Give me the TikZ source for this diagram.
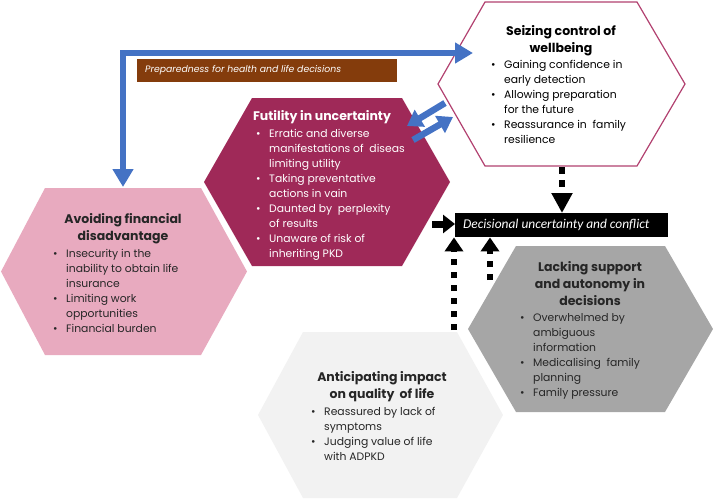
\documentclass[tikz,border=0pt]{standalone}
\usepackage{fontspec}
\setmainfont{Poppins}
\newfontfamily\calib{Carlito}
\usetikzlibrary{arrows.meta}
\definecolor{futc}{HTML}{9F2958}
\definecolor{avoc}{HTML}{E8AABF}
\definecolor{seizec}{HTML}{B24170}
\definecolor{lackc}{HTML}{A6A6A6}
\definecolor{antc}{HTML}{F2F2F2}
\definecolor{bluec}{HTML}{4472C4}
\definecolor{brownc}{HTML}{843C0C}
\definecolor{txtc}{HTML}{262626}
\newcommand\bul{\makebox[13pt][l]{•}}
\newcommand\blist[1]{\begin{tabular}[t]{@{}l@{}l@{}}#1\end{tabular}}
\newcommand\tlist[1]{\begin{tabular}[t]{@{}c@{}}#1\end{tabular}}
\tikzset{
  titletxt/.style={anchor=base, inner sep=0pt, font=\fontsize{12.5}{17}\selectfont\bfseries},
  bodytxt/.style={anchor=base west, inner sep=0pt, font=\fontsize{10.8}{15}\selectfont},
  bluedouble/.style={draw=bluec, line width=6.5pt, {Triangle[length=18pt,width=20pt]}-{Triangle[length=18pt,width=20pt]}},
  bluesingle/.style={draw=bluec, line width=6.5pt, -{Triangle[length=15pt,width=19pt]}},
  dotarrow/.style={draw=black, line width=6.5pt, dash pattern=on 6.5pt off 6.5pt}
}
\begin{document}
\begin{tikzpicture}[x=1pt,y=-1pt]
\useasboundingbox (0,0) rectangle (713,499);
\clip (0,0) rectangle (713,499);
% hexagons
\path[fill=avoc] (1,271.5) -- (45,188) -- (201,188) -- (247,271.5) -- (201,355) -- (45,355) -- cycle;
\coordinate (avoid) at (123,271.5);
\path[fill=futc] (204,182) -- (252,98) -- (402,98) -- (450,182) -- (402,266) -- (252,266) -- cycle;
\coordinate (futil) at (327,182);
\path[fill=white, draw=seizec, line width=1.2pt] (438,84) -- (485,2) -- (637,2) -- (685,84) -- (637,166) -- (485,166) -- cycle;
\coordinate (seize) at (561,84);
\path[fill=lackc] (468,329) -- (516,246) -- (665,246) -- (713,329) -- (665,412) -- (516,412) -- cycle;
\coordinate (lack) at (590,329);
\path[fill=antc] (258,415) -- (303,332) -- (457,332) -- (503,415) -- (457,498) -- (303,498) -- cycle;
\coordinate (antic) at (380,415);

% texts
\node[titletxt, text=black] (seizeT) at (561,35) {\tlist{Seizing control of\\wellbeing}};
\node[bodytxt, text=black] (seizeB) at (491,68) {\blist{\bul & Gaining confidence in\\ & early detection\\ \bul & Allowing preparation\\ & for the future\\ \bul & Reassurance in~ family\\ & resilience}};

\node[titletxt, text=white] (futilT) at (322,120) {Futility in uncertainty};
\node[bodytxt, text=white] (futilB) at (256,137) {\blist{\bul & Erratic and diverse\\ & manifestations of~ diseas\\ & limiting utility\\ \bul & Taking preventative\\ & actions in vain\\ \bul & Daunted by~ perplexity\\ & of results\\ \bul & Unaware of risk of\\ & inheriting PKD}};

\node[titletxt, text=txtc] (avoidT) at (123,223) {\tlist{Avoiding financial\\disadvantage}};
\node[bodytxt, text=txtc] (avoidB) at (53,257) {\blist{\bul & Insecurity in the\\ & inability to obtain life\\ & insurance\\ \bul & Limiting work\\ & opportunities\\ \bul & Financial burden}};

\node[titletxt, text=txtc] (lackT) at (590,271) {\tlist{Lacking support\\and autonomy in\\decisions}};
\node[bodytxt, text=txtc] (lackB) at (520,321) {\blist{\bul & Overwhelmed by\\ & ambiguous\\ & information\\ \bul & Medicalising~ family\\ & planning\\ \bul & Family pressure}};

\node[titletxt, text=txtc] (anticT) at (382,381) {\tlist{Anticipating impact\\on quality~ of life}};
\node[bodytxt, text=txtc] (anticB) at (311,415) {\blist{\bul & Reassured by lack of\\ & symptoms\\ \bul & Judging value of life\\ & with ADPKD}};

% label boxes
\node[fill=brownc, minimum width=260pt, minimum height=23pt, inner sep=0pt, anchor=north west] (prep) at (137,59) {};
\node[anchor=west, inner sep=0pt, text=white, font=\fontsize{9.3}{11}\selectfont\itshape] (prepT) at (145,70.5) {Preparedness for health and life decisions};
\node[fill=black, minimum width=213pt, minimum height=24pt, inner sep=0pt, anchor=north west] (dec) at (455,213) {};
\node[anchor=west, inner sep=0pt, text=white, font=\calib\fontsize{13.4}{15}\selectfont\itshape] (decT) at (463,225) {Decisional uncertainty and conflict};

% blue arrows
\coordinate (avtop) at (123,187);
\coordinate (seizeL) at (473,53);
\draw[bluedouble] (avtop) |- (seizeL);
\coordinate (a1s) at (445,103);
\coordinate (a1e) at (407,126);
\coordinate (a2s) at (413,140);
\coordinate (a2e) at (453,117);
\draw[bluesingle] (a1s) -- (a1e);
\draw[bluesingle] (a2s) -- (a2e);

% black dotted arrows
\coordinate (sbot) at (562,167);
\draw[dotarrow, -{Triangle[length=20pt,width=20pt]}] (sbot) -- (dec.north -| sbot);
\coordinate (fright) at (432,224);
\draw[dotarrow, line width=7pt, dash pattern=on 11pt off 6pt, -{Triangle[length=12pt,width=18pt]}] (fright) -- (dec.west |- fright);
\coordinate (atop) at (454,330);
\draw[dotarrow, -{Triangle[length=14pt,width=18pt]}] (atop) -- (dec.south -| atop);
\coordinate (ltop) at (490,280);
\draw[dotarrow, -{Triangle[length=14pt,width=18pt]}] (ltop) -- (dec.south -| ltop);
\end{tikzpicture}
\end{document}
